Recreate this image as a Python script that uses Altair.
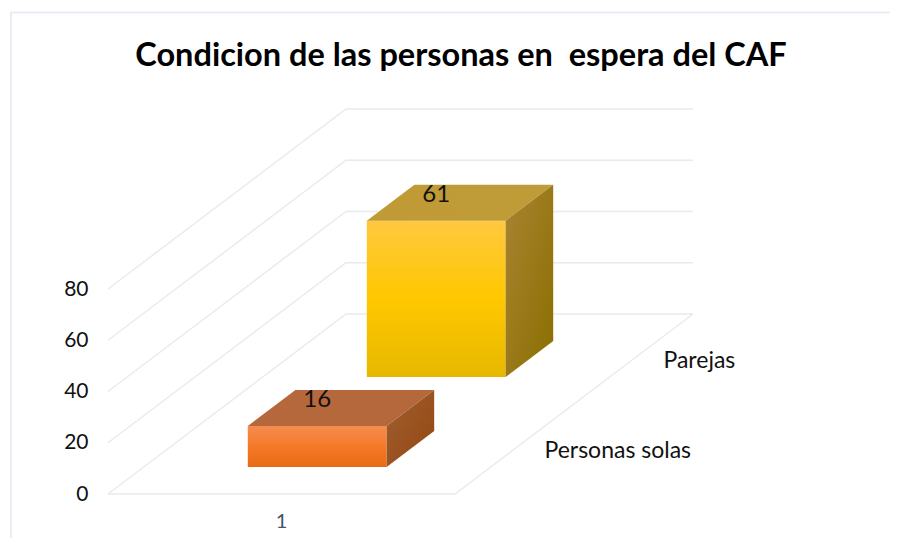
import altair as alt
import pandas as pd

TITLE = "Condicion de las personas en \u00a0espera del CAF"
SERIES = ["Parejas", "Personas solas"]      # back to front
VALUES = [61, 16]
DEPTH_SLOT = [1, 0]
TICKS = [0, 20, 40, 60, 80]
CATEGORY = "1"

# oblique 3-D model: x in 0..1, depth in 0..2 (one unit per series), value in data units
PX_X = 347.0
PX_V = 2.5625
SHEAR_X = 119.0 / PX_X
SHEAR_V = 90.0 / PX_V
BAR_LO, BAR_HI = 0.3, 0.7
GAP = 0.3


def proj(x, d, v):
    return x + d * SHEAR_X, v + d * SHEAR_V


def face_front(v, d0):
    xa, ya = proj(BAR_LO, d0, 0)
    xb, _ = proj(BAR_HI, d0, 0)
    yt = ya + v
    return [dict(x=xa, y=ya, y2=yt), dict(x=xb, y=ya, y2=yt)]


def face_top(v, d0, d1):
    xa, yf = proj(BAR_LO, d0, v)
    xa2, yb = proj(BAR_LO, d1, v)
    xb, _ = proj(BAR_HI, d0, v)
    xb2, _ = proj(BAR_HI, d1, v)
    return [dict(x=xa, y=yf, y2=yf), dict(x=xa2, y=yf, y2=yb),
            dict(x=xb, y=yf, y2=yb), dict(x=xb2, y=yb, y2=yb)]


def face_side(v, d0, d1):
    xa, y0 = proj(BAR_HI, d0, 0)
    xb, y1 = proj(BAR_HI, d1, 0)
    return [dict(x=xa, y=y0, y2=y0 + v), dict(x=xb, y=y1, y2=y1 + v)]


def grad(stops, x1=0, y1=0, x2=0, y2=1):
    return alt.LinearGradient(
        gradient="linear", x1=x1, y1=y1, x2=x2, y2=y2,
        stops=[alt.GradientStop(offset=o, color=c) for o, c in stops])


STYLES = {
    "Parejas": dict(
        front=[(0, "#ffc840"), (0.5, "#ffc800"), (1, "#e6b800")],
        top=[(0, "#bf9a35"), (1, "#c09c38")],
        side=[(0, "#a98432"), (1, "#8a6e00")]),
    "Personas solas": dict(
        front=[(0, "#f58c50"), (0.5, "#f57a28"), (1, "#e86a14")],
        top=[(0, "#b5683c"), (1, "#b5683c")],
        side=[(0, "#a05f32"), (1, "#93470f")]),
}

W, H = 782, 482
FONT = "Lato"
GRID = "#e8eaee"
FRAME = "#e3e8f1"

xs = alt.Scale(domain=[0, W / PX_X], nice=False, zero=False)
ys = alt.Scale(domain=[0, H / PX_V], nice=False, zero=False)
X = alt.X("x:Q", scale=xs, axis=None)
Y = alt.Y("y:Q", scale=ys, axis=alt.Axis(
    values=TICKS, title=None, grid=False, domain=False, ticks=False,
    labelPadding=20, labelFont=FONT, labelFontSize=21, labelColor="#111111",
    format="d"))

# grid
rows = []
for t in TICKS:
    for i, (x, d) in enumerate([(0, 0), (0, 2), (1, 2)]):
        px, py = proj(x, d, t)
        rows.append(dict(x=px, y=py, g=f"t{t}", o=i))
for i, (x, d) in enumerate([(0, 0), (1, 0), (1, 2)]):
    px, py = proj(x, d, 0)
    rows.append(dict(x=px, y=py, g="floor", o=i))

layers = [
    alt.Chart(pd.DataFrame(rows)).mark_line(color=GRID, strokeWidth=1.4).encode(
        x=X, y=Y, detail="g:N", order="o:Q")
]

# bars
for name, v, slot in zip(SERIES, VALUES, DEPTH_SLOT):
    d0 = slot + GAP
    d1 = slot + 1 - GAP
    st = STYLES[name]
    for pts, g in [(face_front(v, d0), grad(st["front"])),
                   (face_top(v, d0, d1), grad(st["top"], 0, 0, 1, 0)),
                   (face_side(v, d0, d1), grad(st["side"], 0, 0, 1, 1))]:
        layers.append(alt.Chart(pd.DataFrame(pts)).mark_area(color=g, interpolate="linear").encode(
            x=X, y=Y, y2="y2:Q"))
    lx, ly = proj(0.5, d0, v)
    layers.append(alt.Chart(pd.DataFrame([dict(x=lx, y=ly, t=str(v))])).mark_text(
        font=FONT, fontSize=24, color="#111111", dy=-26, baseline="middle", align="center"
    ).encode(x=X, y=Y, text="t:N"))
    sx, sy = proj(1, slot + 0.5, 0)
    layers.append(alt.Chart(pd.DataFrame([dict(x=sx, y=sy, t=name)])).mark_text(
        font=FONT, fontSize=23, color="#111111", dx=30, dy=2, baseline="middle", align="left"
    ).encode(x=X, y=Y, text="t:N"))

# category label
cx, cy = proj(0.5, 0, 0)
layers.append(alt.Chart(pd.DataFrame([dict(x=cx, y=cy, t=CATEGORY)])).mark_text(
    font=FONT, fontSize=20, color="#44546a", dy=28, baseline="middle", align="center"
).encode(x=X, y=Y, text="t:N"))

# outer frame (left and top edges)
frame = pd.DataFrame([dict(a=0)])
layers.append(alt.Chart(frame).mark_rule(color=FRAME, strokeWidth=1.5).encode(
    x=alt.value(-97), y=alt.value(0), y2=alt.value(H + 44)))
layers.append(alt.Chart(frame).mark_rule(color=FRAME, strokeWidth=1.5).encode(
    x=alt.value(-97), x2=alt.value(W), y=alt.value(0.5)))

chart = alt.layer(*layers).properties(
    width=W, height=H,
    title=alt.TitleParams(TITLE, font=FONT, fontSize=32.5, fontWeight="bold", color="#000000",
                          anchor="middle", offset=0, dx=-38, dy=61),
    padding={"left": 100, "top": 4, "right": 0, "bottom": 44},
    autosize=alt.AutoSizeParams(type="none"),
    background="#ffffff",
).configure_view(stroke=None)

chart.save("out.html", embed_options={"renderer": "svg", "actions": False})
